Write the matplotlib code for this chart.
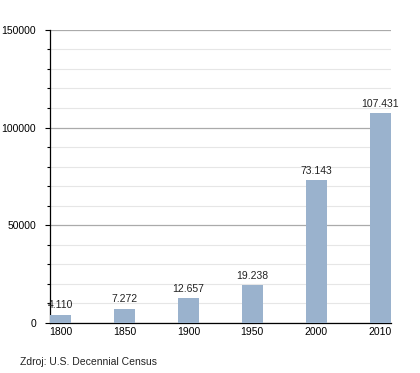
import numpy as np
import matplotlib.pyplot as plt
from matplotlib.ticker import MultipleLocator

# --- datos: poblacion por ano del censo ---
ROKY = ["1800", "1850", "1900", "1950", "2000", "2010"]
POPULACE = [4110, 7272, 12657, 19238, 73143, 107431]
POPISKY = ["4.110", "7.272", "12.657", "19.238", "73.143", "107.431"]

plt.rcParams["font.family"] = ["Liberation Sans", "DejaVu Sans"]

fig = plt.figure(figsize=(4.2, 3.73), dpi=100)
ax = fig.add_axes([0.119, 0.134, 0.812, 0.786])

x = np.arange(len(ROKY))
ax.bar(x, POPULACE, width=0.33, color="#9ab2cd", zorder=3)
for xi, v, t in zip(x, POPULACE, POPISKY):
    ax.text(xi, v + 2300, t, ha="center", va="bottom", fontsize=7.5, color="#222222")

ax.set_xlim(-0.165, 5.17)
ax.set_ylim(0, 150000)
ax.set_xticks(x)
ax.set_xticklabels(ROKY, fontsize=7.5)
ax.yaxis.set_major_locator(MultipleLocator(50000))
ax.yaxis.set_minor_locator(MultipleLocator(10000))
ax.tick_params(axis="y", which="major", labelsize=7.5, length=3.5, width=0.8, pad=6.5)
ax.tick_params(axis="y", which="minor", length=2.5, width=0.8)
ax.tick_params(axis="x", length=0, pad=3)

ax.grid(axis="y", which="major", color="#aaaaaa", lw=0.9, zorder=0)
ax.grid(axis="y", which="minor", color="#e6e6e6", lw=0.8, zorder=0)

for s in ["top", "right"]:
    ax.spines[s].set_visible(False)
ax.spines["left"].set_linewidth(0.9)
ax.spines["bottom"].set_linewidth(0.9)

fig.text(20 / 420, 1 - 362 / 373, "Zdroj: U.S. Decennial Census", fontsize=7.5,
         va="center", ha="left", color="#222222")

fig.savefig("out.png", dpi=100)
